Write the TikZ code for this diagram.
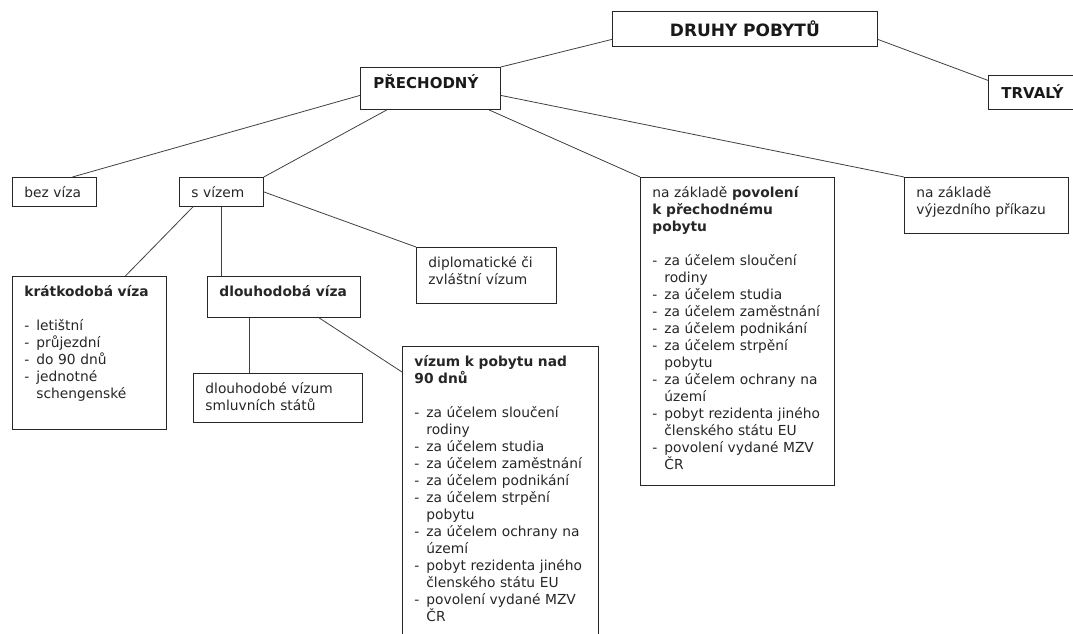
\documentclass[tikz,border=0pt]{standalone}
\usepackage{fontspec}
\setmainfont{DejaVu Sans}

\newcommand{\itm}[1]{\makebox[12pt][l]{-}\mbox{#1}}
\newcommand{\itmcont}[1]{\hspace*{12pt}\mbox{#1}}

\tikzset{
  box/.style 2 args={draw=black!85, line width=0.8pt, anchor=north west,
    inner xsep=12pt, inner ysep=8pt, text width=#1, text height=12.5pt,
    text depth=#2, align=left, text=black!85,
    font=\fontsize{13.8}{17}\selectfont},
  hlava/.style={draw=black!85, line width=0.8pt, anchor=north west,
    inner xsep=13pt, inner ysep=8pt, text=black!90,
    font=\bfseries\fontsize{15}{18}\selectfont},
  spoj/.style={draw=black!75, line width=0.8pt}
}

\begin{document}
\begin{tikzpicture}[x=1pt,y=-1pt]
  \useasboundingbox (0,0) rectangle (1073,634);
  \node[hlava, text width=239pt, align=center, text height=17pt, text depth=2pt,
    font=\bfseries\fontsize{17}{20}\selectfont] (druhy) at (612,11) {DRUHY POBYTŮ};
  \node[hlava, text width=114pt, align=left, text height=13pt, text depth=13pt] (prech) at (360,67) {PŘECHODNÝ};
  \node[hlava, text width=74pt, align=left, text height=15pt, text depth=3pt] (trvaly) at (988,75) {TRVALÝ};

  \node[box={60pt}{0.5pt}] (bez) at (12,177) {bez víza};
  \node[box={60pt}{0.5pt}] (svizem) at (179,177) {s vízem};
  \node[box={116pt}{27.5pt}] (diplo) at (416,247) {diplomatické či\\zvláštní vízum};
  \node[box={130pt}{124.5pt}] (kratko) at (12,276) {\textbf{krátkodobá víza}\\[17pt]
    \itm{letištní}\\\itm{průjezdní}\\\itm{do 90 dnů}\\\itm{jednotné}\\\itmcont{schengenské}};
  \node[box={129pt}{12.5pt}] (dlouho) at (207,276) {\textbf{dlouhodobá víza}};
  \node[box={145pt}{20.5pt}] (smluv) at (193,373) {dlouhodobé vízum\\smluvních států};
  \node[box={172pt}{271.5pt}] (vizum) at (402,346) {\textbf{vízum k pobytu nad}\\\textbf{90 dnů}\\[17pt]
    \itm{za účelem sloučení}\\\itmcont{rodiny}\\
    \itm{za účelem studia}\\
    \itm{za účelem zaměstnání}\\
    \itm{za účelem podnikání}\\
    \itm{za účelem strpění}\\\itmcont{pobytu}\\
    \itm{za účelem ochrany na}\\\itmcont{území}\\
    \itm{pobyt rezidenta jiného}\\\itmcont{členského státu EU}\\
    \itm{povolení vydané MZV}\\\itmcont{ČR}};
  \node[box={170pt}{279.5pt}] (povol) at (640,177) {na základě \textbf{povolení}\\\textbf{k přechodnému}\\\textbf{pobytu}\\[17pt]
    \itm{za účelem sloučení}\\\itmcont{rodiny}\\
    \itm{za účelem studia}\\
    \itm{za účelem zaměstnání}\\
    \itm{za účelem podnikání}\\
    \itm{za účelem strpění}\\\itmcont{pobytu}\\
    \itm{za účelem ochrany na}\\\itmcont{území}\\
    \itm{pobyt rezidenta jiného}\\\itmcont{členského státu EU}\\
    \itm{povolení vydané MZV}\\\itmcont{ČR}};
  \node[box={140pt}{27.5pt}] (vyjezd) at (904,177) {na základě\\výjezdního příkazu};

  % spojnice
  \draw[spoj] (prech.north east) -- ([yshift=-10.5pt]druhy.west);
  \draw[spoj] ([yshift=-10.5pt]druhy.east) -- ([yshift=12pt]trvaly.west);
  \draw[spoj] ([yshift=-7pt]prech.west) -- ([xshift=18pt]bez.north);
  \draw[spoj] ([xshift=27pt]prech.south west) -- (svizem.north east);
  \draw[spoj] ([xshift=-12pt]prech.south east) -- (povol.north west);
  \draw[spoj] ([yshift=-7pt]prech.east) -- (vyjezd.north west);
  \draw[spoj] ([xshift=14pt]svizem.south west) -- ([xshift=36pt]kratko.north);
  \draw[spoj] (svizem.south) -- (svizem.south |- dlouho.north);
  \draw[spoj] (svizem.east) -- (diplo.north west);
  \coordinate (odboc) at ([xshift=42pt]dlouho.south west);
  \draw[spoj] (odboc) -- (odboc |- smluv.north);
  \draw[spoj] ([xshift=112pt]dlouho.south west) -- ([yshift=-26pt]vizum.north west);
\end{tikzpicture}
\end{document}
